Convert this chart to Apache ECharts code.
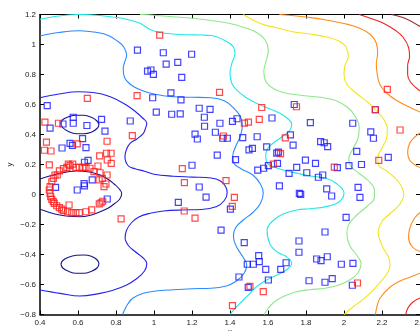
<!DOCTYPE html>
<html><head><meta charset="utf-8">
<script src="https://cdn.jsdelivr.net/npm/echarts@6/dist/echarts.min.js"></script>
<style>html,body{margin:0;padding:0;background:#fff}#c{width:420px;height:331px}</style>
</head><body><div id="c"></div>
<script>
// axis ticks
const xTicks = {min: 0.4, max: 2.4, step: 0.2};
const yTicks = {min: -0.8, max: 1.2, step: 0.2};

// contour lines (x, y), jet colour levels 1..9
const navyTop = [[0.51,0.475],[0.52,0.50],[0.55,0.518],[0.59,0.528],[0.63,0.528],[0.67,0.515],[0.70,0.49],[0.71,0.465],[0.70,0.44],[0.67,0.415],[0.63,0.405],[0.59,0.405],[0.55,0.42],[0.52,0.445],[0.51,0.475]];
const navyBottom = [[0.51,-0.465],[0.52,-0.44],[0.55,-0.418],[0.59,-0.405],[0.63,-0.403],[0.67,-0.412],[0.70,-0.435],[0.71,-0.46],[0.70,-0.49],[0.67,-0.512],[0.63,-0.525],[0.59,-0.525],[0.55,-0.512],[0.52,-0.49],[0.51,-0.465]];
const navyMid = [[0.4,0.103],[0.5,0.14],[0.593,0.157],[0.66,0.15],[0.716,0.13],[0.76,0.1],[0.79,0.07],[0.815,0.04],[0.83,0.008],[0.82,-0.03],[0.795,-0.058],[0.76,-0.09],[0.716,-0.115],[0.66,-0.14],[0.61,-0.148],[0.55,-0.145],[0.505,-0.137],[0.45,-0.12],[0.4,-0.099]];
const blueLine = [[0.4,0.645],[0.5,0.67],[0.6,0.685],[0.68,0.68],[0.77,0.652],[0.85,0.6],[0.9,0.555],[0.94,0.51],[0.962,0.475],[0.955,0.44],[0.944,0.408],[0.91,0.37],[0.874,0.341],[0.855,0.3],[0.847,0.252],[0.865,0.19],[0.9,0.172],[0.95,0.155],[1.0,0.135],[1.1,0.122],[1.2,0.116],[1.3,0.11],[1.35,0.09],[1.378,0.05],[1.385,0.01],[1.37,-0.04],[1.33,-0.08],[1.25,-0.1],[1.15,-0.103],[1.05,-0.11],[0.98,-0.125],[0.92,-0.15],[0.88,-0.19],[0.855,-0.24],[0.848,-0.29],[0.865,-0.34],[0.9,-0.38],[0.94,-0.42],[0.962,-0.46],[0.95,-0.51],[0.91,-0.56],[0.856,-0.603],[0.78,-0.64],[0.716,-0.659],[0.61,-0.677],[0.505,-0.659],[0.4,-0.637]];
const lightBlueLine = [[0.4,1.057],[0.5,1.08],[0.61,1.092],[0.7,1.08],[0.76,1.06],[0.81,1.02],[0.84,0.985],[0.856,0.93],[0.845,0.88],[0.838,0.84],[0.845,0.78],[0.88,0.73],[0.93,0.697],[1.0,0.67],[1.1,0.652],[1.2,0.648],[1.3,0.645],[1.37,0.625],[1.42,0.575],[1.455,0.52],[1.465,0.46],[1.455,0.39],[1.43,0.32],[1.415,0.26],[1.42,0.21],[1.46,0.17],[1.52,0.13],[1.56,0.07],[1.575,0.01],[1.56,-0.06],[1.52,-0.12],[1.47,-0.17],[1.43,-0.22],[1.418,-0.28],[1.435,-0.35],[1.47,-0.42],[1.488,-0.47],[1.472,-0.53],[1.43,-0.58],[1.38,-0.61],[1.3,-0.625],[1.2,-0.628],[1.1,-0.635],[1.0,-0.645],[0.944,-0.659],[0.89,-0.69],[0.862,-0.73],[0.845,-0.77],[0.835,-0.8]];
const cyanLine = [[0.4,1.168],[0.5,1.19],[0.61,1.2],[0.7,1.195],[0.77,1.185],[0.85,1.17],[0.926,1.141],[0.98,1.1],[1.032,1.08],[1.1,1.07],[1.172,1.065],[1.25,1.063],[1.3,1.06],[1.383,1.02],[1.417,0.985],[1.426,0.94],[1.41,0.875],[1.4,0.81],[1.41,0.74],[1.435,0.697],[1.48,0.65],[1.54,0.608],[1.6,0.575],[1.663,0.541],[1.705,0.505],[1.725,0.47],[1.716,0.43],[1.68,0.39],[1.63,0.345],[1.6,0.31],[1.588,0.26],[1.595,0.21],[1.62,0.19],[1.68,0.163],[1.76,0.14],[1.84,0.12],[1.905,0.108],[1.958,0.075],[2.0,0.01],[1.975,-0.048],[1.905,-0.081],[1.82,-0.095],[1.751,-0.103],[1.68,-0.13],[1.63,-0.17],[1.595,-0.237],[1.61,-0.33],[1.65,-0.385],[1.698,-0.415],[1.725,-0.459],[1.7,-0.5],[1.65,-0.535],[1.593,-0.57],[1.54,-0.615],[1.505,-0.659],[1.465,-0.71],[1.435,-0.748],[1.4,-0.8]];
const greenLine = [[0.926,1.2],[1.0,1.195],[1.1,1.185],[1.2,1.175],[1.3,1.16],[1.4,1.14],[1.47,1.115],[1.54,1.08],[1.585,1.03],[1.602,0.96],[1.59,0.89],[1.578,0.82],[1.59,0.75],[1.63,0.705],[1.68,0.68],[1.75,0.665],[1.82,0.655],[1.9,0.643],[1.96,0.625],[2.02,0.58],[2.06,0.52],[2.08,0.45],[2.075,0.38],[2.045,0.3],[2.025,0.24],[2.035,0.19],[2.08,0.14],[2.13,0.09],[2.16,0.03],[2.16,-0.02],[2.12,-0.08],[2.065,-0.14],[2.025,-0.2],[2.015,-0.26],[2.03,-0.34],[2.07,-0.41],[2.09,-0.46],[2.075,-0.52],[2.03,-0.57],[1.97,-0.605],[1.9,-0.625],[1.82,-0.635],[1.75,-0.648],[1.68,-0.68],[1.63,-0.72],[1.6,-0.76],[1.58,-0.8]];
const yellowLine = [[1.47,1.2],[1.56,1.14],[1.65,1.11],[1.73,1.085],[1.82,1.07],[1.91,1.05],[1.97,1.025],[2.01,0.985],[2.023,0.92],[2.005,0.86],[2.0,0.8],[2.015,0.735],[2.07,0.67],[2.13,0.61],[2.17,0.56],[2.21,0.5],[2.228,0.44],[2.225,0.38],[2.2,0.31],[2.178,0.25],[2.18,0.2],[2.22,0.16],[2.26,0.12],[2.3,0.06],[2.315,0.0],[2.29,-0.07],[2.24,-0.13],[2.2,-0.18],[2.18,-0.25],[2.2,-0.34],[2.235,-0.42],[2.242,-0.47],[2.225,-0.53],[2.18,-0.6],[2.137,-0.659],[2.09,-0.71],[2.049,-0.748],[2.0,-0.8]];
const orangeTop = [[1.66,1.2],[1.75,1.19],[1.82,1.18],[1.9,1.165],[2.0,1.14],[2.08,1.11],[2.14,1.065],[2.17,1.01],[2.177,0.94],[2.17,0.87],[2.175,0.8],[2.19,0.73],[2.23,0.67],[2.28,0.625],[2.34,0.585],[2.4,0.55]];
const orangeMid = [[2.4,0.41],[2.37,0.38],[2.345,0.34],[2.335,0.28],[2.345,0.23],[2.37,0.2],[2.4,0.18]];
const orangeLow = [[2.4,-0.12],[2.37,-0.16],[2.345,-0.23],[2.34,-0.29],[2.36,-0.35],[2.4,-0.38]];
const orangeBottom = [[2.165,-0.8],[2.175,-0.74],[2.19,-0.69],[2.24,-0.62],[2.29,-0.58],[2.35,-0.55],[2.4,-0.525]];
const redTop = [[2.08,1.2],[2.15,1.17],[2.21,1.14],[2.27,1.095],[2.31,1.05],[2.34,0.98],[2.345,0.92],[2.335,0.86],[2.335,0.8],[2.35,0.75],[2.4,0.69]];
const redBottom = [[2.325,-0.8],[2.335,-0.76],[2.36,-0.72],[2.4,-0.69]];
const darkRedTop = [[2.25,1.2],[2.31,1.18],[2.36,1.15],[2.4,1.12]];

// scatter classes
const redPoints = [[0.649,0.641],[0.426,0.483],[0.497,0.475],[0.886,0.393],[0.434,0.349],[0.753,0.355],[0.596,0.338],[0.423,0.295],[0.458,0.29],[0.75,0.275],[0.774,0.275],[0.714,0.257],[0.754,0.23],[0.775,0.208],[1.03,1.062],[0.911,0.659],[1.149,0.172],[1.345,0.681],[1.567,0.58],[1.75,0.585],[1.554,0.501],[1.476,0.476],[1.497,0.483],[1.365,0.39],[1.691,0.377],[1.666,0.273],[1.628,0.202],[1.949,0.182],[2.183,0.227],[2.228,0.701],[2.165,0.565],[2.295,0.43],[1.16,0.079],[1.379,0.092],[1.159,-0.11],[1.216,-0.157],[1.423,-0.019],[1.412,-0.079],[1.505,-0.613],[1.575,-0.648],[2.071,-0.59],[1.413,-0.741],[0.827,-0.163],[0.705,0.19],
[0.449,0.197],[0.491,0.13],[0.47,0.108],[0.462,0.085],[0.453,0.052],[0.449,0.03],[0.453,0.008],[0.456,-0.015],[0.462,-0.032],[0.47,-0.048],[0.475,-0.059],[0.488,-0.075],[0.502,-0.088],[0.514,-0.097],[0.523,-0.108],[0.546,-0.115],[0.567,-0.121],[0.589,-0.121],[0.607,-0.121],[0.553,-0.07],[0.642,-0.115],[0.672,-0.103],[0.712,-0.063],[0.721,-0.055],[0.73,-0.045],[0.737,0.052],[0.747,0.07],[0.711,0.097],[0.728,0.108],[0.753,0.13],[0.716,0.145],[0.684,0.152],[0.663,0.175],[0.642,0.181],[0.625,0.181],[0.607,0.181],[0.589,0.181],[0.572,0.203],[0.558,0.192],[0.541,0.181],[0.549,0.203],[0.523,0.172],[0.502,0.157],[0.479,0.13]];
const bluePoints = [[0.438,0.593],[0.453,0.443],[0.521,0.47],[0.575,0.515],[0.575,0.475],[0.647,0.46],[0.724,0.501],[0.742,0.423],[0.875,0.49],[0.624,0.373],[0.558,0.341],[0.571,0.327],[0.516,0.31],[0.642,0.312],[0.653,0.228],[0.634,0.215],[0.913,0.963],[1.049,0.945],[1.198,0.935],[1.064,0.869],[1.125,0.881],[0.966,0.823],[0.984,0.83],[0.997,0.801],[1.146,0.781],[1.089,0.677],[0.993,0.645],[1.142,0.631],[1.238,0.575],[1.295,0.567],[1.012,0.549],[1.093,0.535],[1.138,0.537],[1.265,0.515],[1.266,0.455],[1.216,0.403],[1.228,0.37],[1.2,0.195],[1.347,0.475],[1.323,0.415],[1.362,0.375],[1.386,0.375],[1.333,0.263],[1.738,0.6],[1.621,0.51],[1.413,0.487],[1.437,0.505],[1.823,0.479],[2.046,0.475],[1.718,0.397],[1.467,0.379],[1.543,0.385],[1.732,0.329],[1.593,0.317],[1.518,0.307],[1.5,0.297],[1.877,0.352],[1.896,0.345],[1.914,0.319],[2.141,0.417],[2.155,0.375],[1.655,0.283],[1.646,0.276],[1.429,0.233],[1.797,0.229],[1.85,0.207],[1.65,0.208],[1.602,0.193],[1.577,0.175],[1.546,0.163],[1.751,0.181],[1.965,0.179],[2.026,0.192],[2.067,0.287],[2.092,0.2],[2.233,0.248],[2.165,0.565],
[1.711,0.141],[1.804,0.145],[1.865,0.115],[1.888,0.13],[1.909,0.037],[1.935,-0.01],[1.765,0.008],[1.772,0.001],[1.66,0.057],[1.402,-0.097],[2.074,0.048],[2.084,-0.019],[2.011,-0.152],[1.353,-0.237],[1.9,-0.25],[1.763,-0.31],[1.763,-0.385],[1.475,-0.321],[1.551,-0.408],[1.554,-0.448],[1.491,-0.465],[1.523,-0.465],[1.695,-0.455],[1.588,-0.499],[1.667,-0.499],[1.856,-0.43],[1.879,-0.441],[1.912,-0.415],[1.986,-0.465],[2.047,-0.459],[1.447,-0.55],[1.496,-0.619],[1.602,-0.57],[1.816,-0.575],[1.9,-0.585],[1.938,-0.561],[2.044,-0.605],
[1.238,0.05],[1.274,-0.017],[1.128,-0.052],
[0.482,0.048],[0.632,0.073],[0.634,0.057],[0.596,0.03],[0.675,0.097],[0.754,-0.03]];

const contours = [
  [navyTop,'#14148c'],[navyBottom,'#14148c'],[navyMid,'#14148c'],
  [blueLine,'#2222ee'],[lightBlueLine,'#2a8cff'],[cyanLine,'#22e8e8'],
  [greenLine,'#8ee88a'],[yellowLine,'#f2e61c'],
  [orangeTop,'#ff8c1a'],[orangeMid,'#ff8c1a'],[orangeLow,'#ff8c1a'],[orangeBottom,'#ff8c1a'],
  [redTop,'#ee2222'],[redBottom,'#ee2222'],[darkRedTop,'#9a3030']
];

const fmt = v => String(Math.round(v*10)/10).replace('-', '\u2212');
const font = 'Liberation Sans';
const axisLine = w => ({show:true, onZero:false, lineStyle:{color:'#000', width:w}});
const tick = {show:true, inside:true, length:4, lineStyle:{color:'#000', width:1}};

const series = [];
contours.forEach(([d,c]) => series.push({
  type:'line', data:d, smooth:0.4, symbol:'none', clip:true, silent:true,
  lineStyle:{color:c, width:1.1}, z:2
}));
series.push({type:'scatter', data:bluePoints, symbol:'rect', symbolSize:6, silent:true,
  itemStyle:{color:'rgba(0,0,0,0)', borderColor:'#1414ff', borderWidth:1.2}, z:3});
series.push({type:'scatter', data:redPoints, symbol:'rect', symbolSize:6, silent:true,
  itemStyle:{color:'rgba(0,0,0,0)', borderColor:'#ff1a1a', borderWidth:1.2}, z:4});

const chart = echarts.init(document.getElementById('c'), null, {renderer:'canvas'});
chart.setOption({
  animation:false,
  backgroundColor:'#fff',
  grid:{left:40, top:14.5, right:0, bottom:16.5, containLabel:false, outerBoundsMode:'none'},
  xAxis:[
    {type:'value', position:'bottom', min:xTicks.min, max:xTicks.max, interval:xTicks.step,
     axisLine:axisLine(1.5), axisTick:tick, splitLine:{show:false},
     axisLabel:{fontSize:8, color:'#222', margin:4, fontFamily:font, formatter:fmt, showMaxLabel:true},
     name:'x', nameLocation:'middle', nameGap:13, nameMoveOverlap:false,
     nameTextStyle:{fontSize:8, color:'#222', fontFamily:font}},
    {type:'value', position:'top', min:xTicks.min, max:xTicks.max, interval:xTicks.step,
     axisLine:axisLine(1), axisTick:tick, splitLine:{show:false}, axisLabel:{show:false}}
  ],
  yAxis:[
    {type:'value', position:'left', min:yTicks.min, max:yTicks.max, interval:yTicks.step,
     axisLine:axisLine(1.5), axisTick:tick, splitLine:{show:false},
     axisLabel:{fontSize:8, color:'#222', margin:4, fontFamily:font, formatter:fmt},
     name:'y', nameLocation:'middle', nameGap:26, nameRotate:90, nameMoveOverlap:false,
     nameTextStyle:{fontSize:8, color:'#222', fontFamily:font}},
    {type:'value', position:'right', min:yTicks.min, max:yTicks.max, interval:yTicks.step,
     axisLine:axisLine(1), axisTick:tick, splitLine:{show:false}, axisLabel:{show:false}}
  ],
  series:series
});
</script></body></html>
